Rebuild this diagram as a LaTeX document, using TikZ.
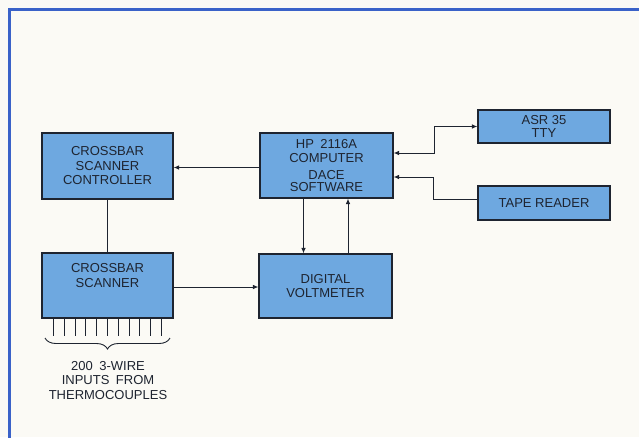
\documentclass[tikz,border=0pt]{standalone}
\usepackage{fontspec}
\setmainfont{Liberation Sans}
\usetikzlibrary{arrows.meta,decorations.pathreplacing}

\definecolor{boxblue}{RGB}{110,168,224}
\definecolor{inkdark}{RGB}{30,36,48}
\definecolor{frameblue}{RGB}{58,98,200}
\definecolor{paper}{RGB}{251,250,245}

\begin{document}
\begin{tikzpicture}[x=1pt, y=-1pt, >={Latex[length=5.5pt,width=4.5pt]},
    blk/.style={draw=inkdark, line width=1.1pt, fill=boxblue, text=inkdark,
        align=center, inner sep=0pt, font=\fontsize{13}{14.5}\selectfont},
    txt/.style={text=inkdark, align=center, inner sep=0pt,
        font=\fontsize{13}{14.5}\selectfont},
    wire/.style={draw=inkdark, line width=0.9pt}]

    % --- page and frame ---
    \useasboundingbox (0,0) rectangle (639,437);
    \fill[paper] (0,0) rectangle (639,437);
    \draw[frameblue, line width=3pt] (9.5,445) -- (9.5,9.5) -- (645,9.5);

    % --- blocks ---
    \node[blk, minimum width=131pt, minimum height=66pt] (ctrl) at (107.5,166)
        {CROSSBAR\\SCANNER\\CONTROLLER};
    \node[blk, minimum width=133pt, minimum height=65pt] (comp) at (326.5,165.5)
        {HP\enspace 2116A\\COMPUTER\\[2pt]DACE\\[-2pt]SOFTWARE};
    \node[blk, minimum width=132pt, minimum height=33pt] (asr) at (544,126.5)
        {ASR 35\\[-1.5pt]TTY};
    \node[blk, minimum width=132pt, minimum height=34pt] (tape) at (544,203)
        {TAPE READER};
    \node[blk, minimum width=131pt, minimum height=65pt] (scan) at (107.5,285.5) {};
    \node[txt] (scantxt) at ([yshift=10pt]scan.center) {CROSSBAR\\SCANNER};
    \node[blk, minimum width=133pt, minimum height=64pt] (dvm) at (325.5,286)
        {DIGITAL\\VOLTMETER};

    % --- connectors ---
    \draw[wire, ->] ([yshift=-2pt]comp.west) -- ([yshift=-2pt]comp.west -| ctrl.east);
    \draw[wire] (ctrl.south) -- (scan.north);
    \draw[wire, ->] ([yshift=-1.5pt]scan.east) -- ([yshift=-1.5pt]scan.east -| dvm.west);
    \draw[wire, ->] ([xshift=-23pt]comp.south) -- ([xshift=-23pt]comp.south |- dvm.north);
    \draw[wire, ->] ([xshift=22.5pt]dvm.north) -- ([xshift=22.5pt]dvm.north |- comp.south);
    \draw[wire, <->] ([yshift=12.5pt]comp.east) -- ++(41,0) |- (asr.west);
    \draw[wire, ->] ([yshift=4pt]tape.west) -- ++(-44,0) |- ([yshift=-11.5pt]comp.east);

    % --- thermocouple inputs ---
    \foreach \i in {0,...,10}
        \draw[wire] ([xshift={12pt+\i*10.8pt}]scan.south west) -- ++(0,17);
    \draw[wire, decorate, decoration={brace, amplitude=11pt, mirror}] (45,338) -- (170,338);
    \node[txt] (inputs) at (108,380.5)
        {200\enspace 3-WIRE\\INPUTS\enspace FROM\\THERMOCOUPLES};

\end{tikzpicture}
\end{document}
